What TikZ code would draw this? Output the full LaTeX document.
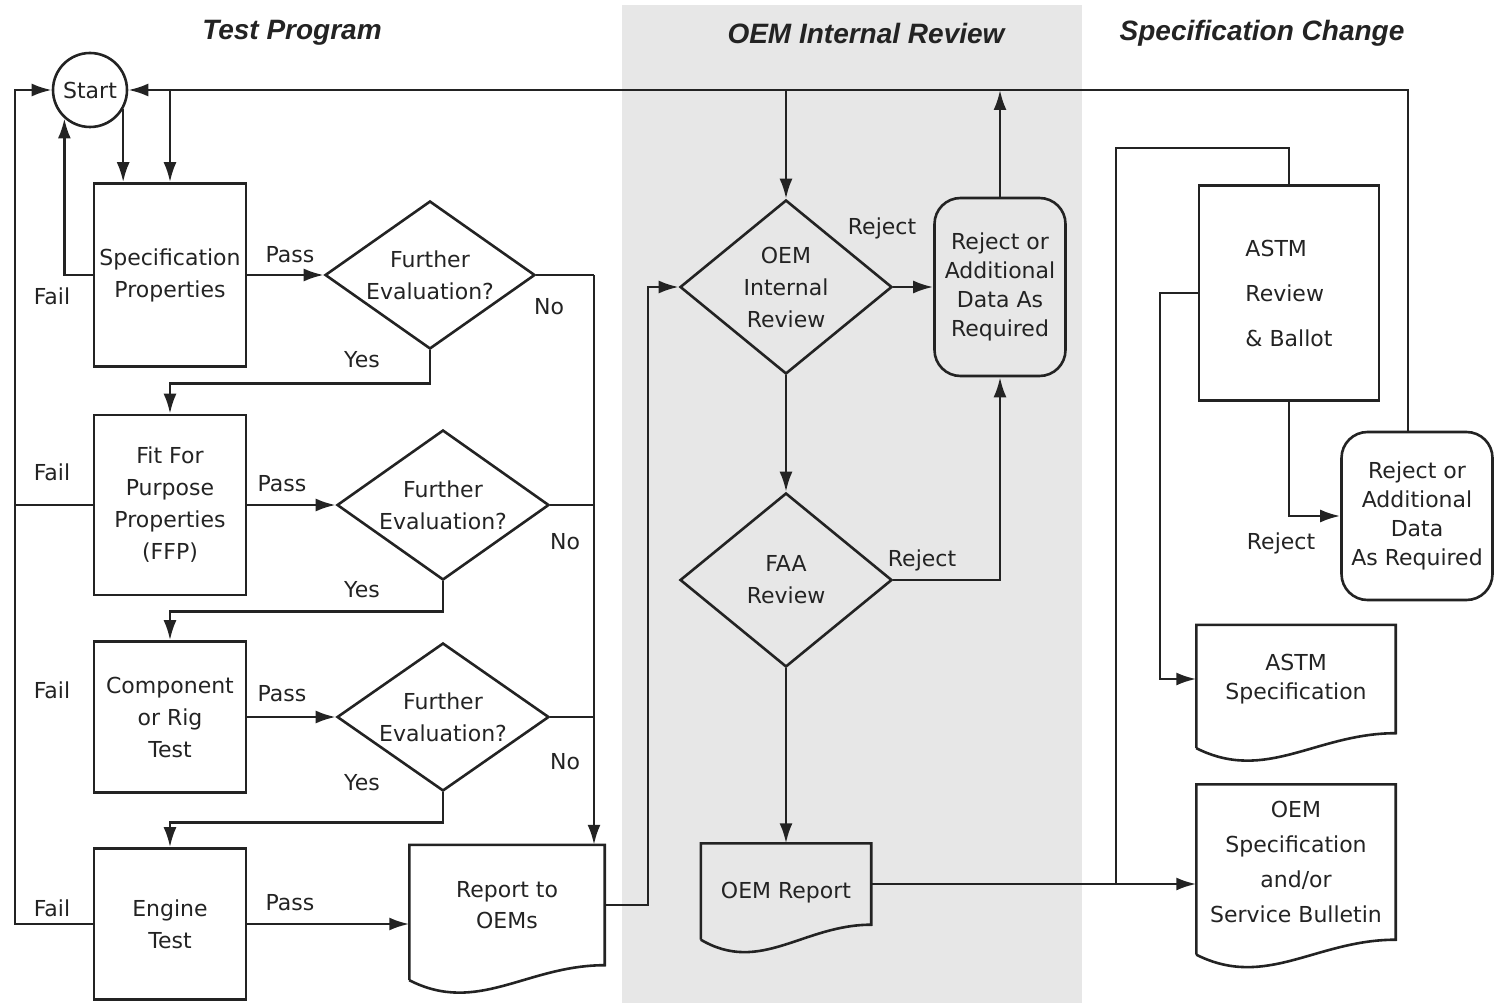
\documentclass[tikz,border=0pt]{standalone}
\usepackage{fontspec}
\setmainfont{DejaVu Sans}
\newfontfamily\headfont{Liberation Sans}
\usetikzlibrary{shapes.geometric,arrows.meta,calc}

\definecolor{bandgray}{RGB}{231,231,231}
\definecolor{ink}{RGB}{35,35,35}

\tikzset{
  every node/.style={font=\fontsize{22}{32}\selectfont, text=ink},
  box/.style={draw=ink, line width=2.6pt, rectangle, minimum width=152, inner sep=0, align=center},
  decision/.style={draw=ink, line width=2.6pt, diamond, inner sep=0, align=center},
  rbox/.style={draw=ink, line width=2.6pt, rectangle, rounded corners=26, inner sep=0, align=center,
    font=\fontsize{22}{29}\selectfont},
  doc/.style={rectangle, inner sep=0, align=center},
  head/.style={font=\headfont\bfseries\itshape\fontsize{28}{30}\selectfont},
  line/.style={draw=ink, line width=2.6pt},
  >={Latex[length=20pt,width=13pt]}
}

\begin{document}
\begin{tikzpicture}[x=1pt, y=-1pt]
  \useasboundingbox (0,0) rectangle (1496,1003);
  \fill[bandgray] (622,5) rectangle (1082,1003);

  % column titles
  \node[head] (htest) at (292,33) {Test Program};
  \node[head] (hoem) at (866,33) {OEM Internal Review};
  \node[head] (hspec) at (1262,33) {Specification Change};

  % test program
  \node[draw=ink, line width=2.6pt, circle, minimum size=74, inner sep=0] (start) at (90,90) {Start};
  \node[box, minimum height=183] (spec) at (170,275) {Specification\\Properties};
  \node[box, minimum height=180] (ffp) at (170,505) {Fit For\\Purpose\\Properties\\(FFP)};
  \node[box, minimum height=151] (comp) at (170,717) {Component\\or Rig\\Test};
  \node[box, minimum height=151] (engine) at (170,924) {Engine\\Test};
  \node[decision, aspect=1.4, minimum width=210, minimum height=148] (d1) at (430,275) {Further\\Evaluation?};
  \node[decision, aspect=1.4, minimum width=212, minimum height=150] (d2) at (443,505) {Further\\Evaluation?};
  \node[decision, aspect=1.4, minimum width=212, minimum height=148] (d3) at (443,717) {Further\\Evaluation?};
  \node[doc, minimum width=195, minimum height=120, font=\fontsize{22}{31}\selectfont] (report) at (507,905) {Report to\\OEMs};

  % OEM internal review
  \node[decision, aspect=1.2, minimum width=212, minimum height=174] (oemrev) at (786,287) {OEM\\Internal\\Review};
  \node[decision, aspect=1.2, minimum width=212, minimum height=174] (faa) at (786,580) {FAA\\Review};
  \node[rbox, minimum width=131, minimum height=178] (rej1) at (1000,287) {Reject or\\Additional\\Data As\\Required};
  \node[doc, minimum width=170, minimum height=81, text height=34] (oemrep) at (786,884) {OEM Report};

  % specification change
  \node[box, minimum width=180, minimum height=215, align=left, font=\fontsize{22}{45}\selectfont] (astm) at (1289,293) {ASTM\\Review\\\& Ballot};
  \node[rbox, minimum width=151, minimum height=168] (rej2) at (1417,516) {Reject or\\Additional\\Data\\As Required};
  \node[doc, minimum width=199, minimum height=108, font=\fontsize{22}{29}\selectfont] (astmspec) at (1296,679) {ASTM\\Specification};
  \node[doc, minimum width=199, minimum height=155, font=\fontsize{22}{35}\selectfont] (oemspec) at (1296,862) {OEM\\Specification\\and/or\\Service Bulletin};

  % document outlines
  \foreach \n in {report,oemrep,astmspec,oemspec}
    \draw[line] ($(\n.south west)+(0,15)$) -- (\n.north west) -- (\n.north east) -- (\n.south east)
      .. controls ($(\n.south east)!0.4!(\n.south west)$) and ($(\n.south east)!0.65!(\n.south west)+(0,50)$)
      .. ($(\n.south west)+(0,15)$);

  % routing points
  \coordinate (lft) at (15,90);
  \coordinate (tr) at (1408,90);
  \coordinate (nx) at (594,275);
  \coordinate (vx) at (648,287);
  \coordinate (jx) at (1116,148);
  \coordinate (ax) at (1160,293);

  % connectors
  \draw[line,->] (start.-30) -- (start.-30 |- spec.north);
  \draw[line,->] (spec.west) -| (start.-132);
  \draw[line,->] (engine.west) -| (lft) -- (start.west);
  \draw[line] (ffp.west) -- (ffp.west -| lft);
  \draw[line,->] (rej2.north -| tr) -- (tr) -- (start.east);
  \draw[line,->] (spec.north |- tr) -- (spec.north);
  \draw[line,->] (oemrev.north |- tr) -- (oemrev.north);
  \draw[line,->] (rej1.north) -- (rej1.north |- tr);

  \draw[line,->] (spec.east) -- (d1.west);
  \draw[line,->] (ffp.east) -- (d2.west);
  \draw[line,->] (comp.east) -- (d3.west);
  \draw[line,->] (engine.east) -- (engine.east -| report.west);

  \draw[line,->] (d1.south) -- ++(0,33) -| (ffp.north);
  \draw[line,->] (d2.south) -- ++(0,30) -| (comp.north);
  \draw[line,->] (d3.south) -- ++(0,30) -| (engine.north);

  \draw[line] (d1.east) -- (nx);
  \draw[line] (d2.east) -- (d2.east -| nx);
  \draw[line] (d3.east) -- (d3.east -| nx);
  \draw[line,->] (nx) -- (nx |- report.north);

  \draw[line,->] (report.east) -| (vx) -- (oemrev.west);
  \draw[line,->] (oemrev.east) -- (rej1.west);
  \draw[line,->] (oemrev.south) -- (faa.north);
  \draw[line,->] (faa.south) -- (oemrep.north);
  \draw[line,->] (faa.east) -| (rej1.south);

  \draw[line,->] (oemrep.east) -- (oemrep.east -| oemspec.west);
  \draw[line] (oemrep.east -| jx) -- (jx) -| (astm.north);
  \draw[line,->] (astm.west) -- (ax) |- (astmspec.west);
  \draw[line,->] (astm.south) |- (rej2.west);

  % labels
  \node (fail1) at (52,296) {Fail};
  \node (fail2) at (52,472) {Fail};
  \node (fail3) at (52,690) {Fail};
  \node (fail4) at (52,908) {Fail};
  \node (pass1) at (290,255) {Pass};
  \node (pass2) at (282,484) {Pass};
  \node (pass3) at (282,694) {Pass};
  \node (pass4) at (290,903) {Pass};
  \node (yes1) at (362,360) {Yes};
  \node (yes2) at (362,590) {Yes};
  \node (yes3) at (362,783) {Yes};
  \node (no1) at (549,307) {No};
  \node (no2) at (565,542) {No};
  \node (no3) at (565,762) {No};
  \node (rj1) at (882,228) {Reject};
  \node (rj2) at (922,560) {Reject};
  \node (rj3) at (1281,543) {Reject};
\end{tikzpicture}
\end{document}
